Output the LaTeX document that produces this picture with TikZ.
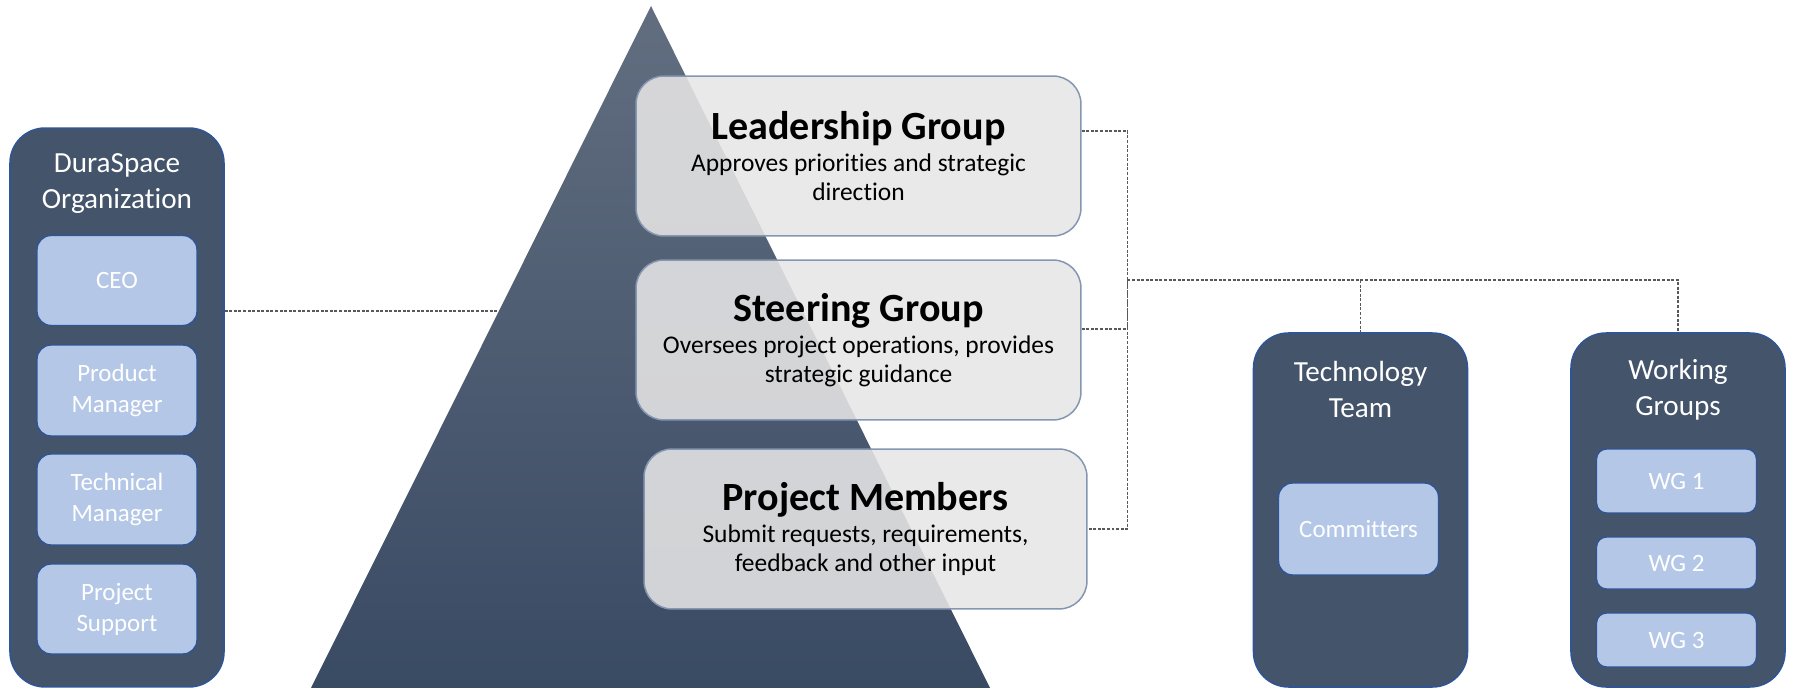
\documentclass[tikz,border=0pt]{standalone}
\usepackage{fontspec}
\setmainfont{Carlito}[Ligatures={NoCommon,NoRare,NoContextual},Contextuals=NoAlternate]
\usetikzlibrary{backgrounds}
\definecolor{slate}{HTML}{44546A}
\definecolor{edgeblue}{HTML}{2F5597}
\definecolor{paleblue}{HTML}{B4C7E7}
\definecolor{glass}{HTML}{E7E6E6}
\definecolor{glassedge}{HTML}{8496B0}
\definecolor{pyrtop}{HTML}{626E80}
\definecolor{pyrbot}{HTML}{394A63}
\definecolor{linkgray}{HTML}{595959}

\begin{document}
\begin{tikzpicture}[x=0.02cm,y=-0.02cm,
  team/.style={draw=edgeblue,line width=0.9pt,fill=slate,rounded corners=0.7cm,minimum width=4.28cm},
  teamtitle/.style={text=white,align=center,font=\fontsize{16.6}{20.5}\selectfont},
  role/.style={draw=edgeblue,line width=0.8pt,fill=paleblue,rounded corners=0.28cm,minimum width=3.2cm,
    text=white,align=center,font=\fontsize{14.2}{17.6}\selectfont},
  layer/.style={draw=glassedge,line width=0.85pt,fill=glass,fill opacity=0.88,text opacity=1,
    rounded corners=0.56cm,minimum width=8.9cm,minimum height=3.2cm,align=center,
    font=\fontsize{14.5}{16.3}\selectfont},
  link/.style={draw=linkgray,line width=0.6pt,dash pattern=on 1.7pt off 0.9pt}]
\useasboundingbox (0,0) rectangle (1793,688);

% DuraSpace side
\node[team,minimum height=11.18cm] (org) at (117,407.5) {};
\node[teamtitle] (orgname) at (117,184) {DuraSpace\\Organization};
\node[role,minimum height=1.8cm] (ceo) at (117,280.5) {CEO};
\node[role,minimum height=1.82cm] (pm) at (117,390.5) {Product\\Manager};
\node[role,minimum height=1.82cm] (tm) at (117,499.5) {Technical\\Manager};
\node[role,minimum height=1.8cm] (ps) at (117,609) {Project\\Support};

% pyramid layers
\node[layer] (lead) at (858.5,156) {{\fontsize{22.8}{27}\selectfont\bfseries Leadership Group}\\[2pt]Approves priorities and strategic\\direction};
\node[layer] (steer) at (858.5,340) {{\fontsize{22.8}{27}\selectfont\bfseries Steering Group}\\[2pt]Oversees project operations, provides\\strategic guidance};
\node[layer,minimum width=8.86cm] (members) at (865.5,529) {{\fontsize{22.8}{27}\selectfont\bfseries Project Members}\\[2pt]Submit requests, requirements,\\feedback and other input};

\coordinate (jl) at (0,311);
\coordinate (spine) at (1127.5,280);
\begin{pgfonlayer}{background}
\draw[link] (org.east |- jl) -- (steer.west |- jl);
\shade[top color=pyrtop,bottom color=pyrbot] (651,6) -- (990,688) -- (311,688) -- cycle;
\end{pgfonlayer}

% teams
\node[team,minimum height=7.08cm] (tech) at (1360.5,510) {};
\node[teamtitle] (techname) at (1360.5,389.5) {Technology\\Team};
\node[role,minimum height=1.84cm] (com) at (1358.5,529) {Committers};
\node[team,minimum height=7.08cm] (wg) at (1678,510) {};
\node[teamtitle] (wgname) at (1678,389.5) {Working\\Groups};
\node[role,minimum height=1.28cm,rounded corners=0.2cm] (wg1) at (1676.5,481) {WG 1};
\node[role,minimum height=1.04cm,rounded corners=0.2cm] (wg2) at (1676.5,563) {WG 2};
\node[role,minimum height=1.08cm,rounded corners=0.2cm] (wg3) at (1676.5,640) {WG 3};

% connectors
\draw[link] ([yshift=0.5cm]lead.east) -| (spine) |- (members.east);
\draw[link] ([yshift=0.22cm]steer.east) -| (spine);
\draw[link] (spine) -| (tech.north);
\draw[link] (spine) -| (wg.north);
\end{tikzpicture}
\end{document}
